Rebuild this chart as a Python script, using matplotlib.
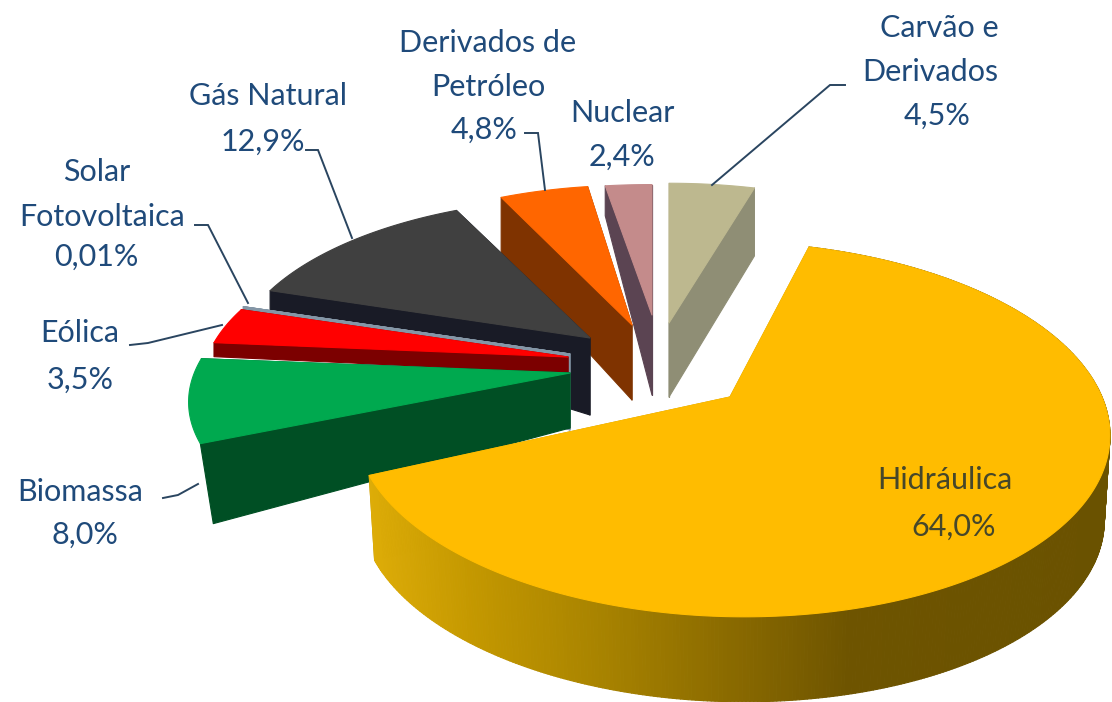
import numpy as np
import matplotlib
matplotlib.use("Agg")
import matplotlib.pyplot as plt
from matplotlib.patches import Polygon
from matplotlib.colors import to_rgb

# ---- data (clockwise from 12 o'clock) ----
names = ["Carvão e Derivados", "Hidráulica", "Biomassa", "Eólica",
         "Solar Fotovoltaica", "Gás Natural", "Derivados de Petróleo", "Nuclear"]
shares = [4.5, 64.0, 8.0, 3.5, 0.01, 12.9, 4.8, 2.4]

# ---- styles ----
top_colors = ["#BDB88F", "#FFBC00", "#00A94F", "#FF0000", "#8496A6", "#404040", "#FF6600", "#C48B8B"]
side_colors = ["#8F8E75", "#C89A00", "#004F24", "#7C0000", "#8496A6", "#191B26", "#7F3300", "#5B4452"]
rim_stops = [(365, "#DEAD08"), (470, "#C49800"), (600, "#A88300"), (730, "#8A6A00"),
             (850, "#6E5400"), (1110, "#6A5200")]

# ---- layout of the exploded projection, per wedge, pixels ----
apex_x = [669, 730, 570, 568, 570, 590, 632, 652]
apex_y = [323, 397, 373, 357, 354, 338, 325, 315]
scale_x = [0.96, 1.0, 1.01, 0.97, 0.97, 0.95, 0.93, 0.98]
scale_y = [0.90, 1.0, 0.90, 0.90, 0.90, 0.90, 0.90, 0.84]
vanish = [0, 70, 0, 0, 0, 0, 0, 0]
depth_apex = [74, 85, 55, 16, 76, 77, 75, 80]
depth_rim = [68, 85, 80, 14, 20, 25, 60, 30]
floor_x = [1.0, 0.985, 0.965, 1.0, 1.0, 1.0, 1.0, 1.0]
paint_order = [0, 7, 6, 5, 4, 3, 2, 1]
RADIUS_X, RADIUS_Y, PERSP = 372, 182, 0.172

# ---- labels (text, x, y) ----
ink = "#1F4A7A"
ink_on_gold = "#46472A"
labels = [("Derivados de", 488, 43, ink), ("Petróleo", 488, 87, ink), ("4,8%", 484, 130, ink),
          ("Nuclear", 622, 113, ink), ("2,4%", 622, 157, ink),
          ("Carvão e", 939, 28, ink), ("Derivados", 930, 72, ink), ("4,5%", 937, 116, ink),
          ("Gás Natural", 268, 96, ink), ("12,9%", 263, 142, ink),
          ("Solar", 97, 172, ink), ("Fotovoltaica", 102, 217, ink), ("0,01%", 96, 257, ink),
          ("Eólica", 80, 333, ink), ("3,5%", 80, 380, ink),
          ("Biomassa", 80, 492, ink), ("8,0%", 85, 535, ink),
          ("Hidráulica", 945, 480, ink_on_gold), ("64,0%", 954, 527, ink_on_gold)]
leaders = [([845, 830, 712], [85, 85, 185]),
           ([525, 538, 545], [133, 133, 190]),
           ([306, 318, 352], [150, 150, 238]),
           ([195, 208, 248], [225, 225, 303]),
           ([130, 148, 222], [345, 343, 325]),
           ([163, 178, 198], [498, 495, 484])]

fig = plt.figure(figsize=(11.12, 7.02), dpi=100, facecolor="white")
ax = fig.add_axes([0, 0, 1, 1])
ax.set_xlim(0, 1112)
ax.set_ylim(702, 0)
ax.axis("off")

edges = np.cumsum([0] + shares) / sum(shares) * 360.0


def project(i, theta, r=1.0):
    t = np.radians(theta)
    X, Y = r * np.sin(t), r * np.cos(t)
    w = 1 + PERSP * Y
    return np.column_stack([apex_x[i] + scale_x[i] * RADIUS_X * X / w - vanish[i] * (1 - 1 / w),
                            apex_y[i] - scale_y[i] * RADIUS_Y * Y / w])


def rim_color(x):
    xs = [s[0] for s in rim_stops]
    cs = np.array([to_rgb(s[1]) for s in rim_stops])
    return tuple(np.interp(x, xs, cs[:, k]) for k in range(3))


def poly(pts, color, z):
    ax.add_patch(Polygon(pts, closed=True, facecolor=color, edgecolor=color,
                         linewidth=0.8, zorder=z, joinstyle="round"))


z = 1
for i in paint_order:
    th = np.linspace(edges[i], edges[i + 1], max(int(edges[i + 1] - edges[i]) * 2, 2) + 1)
    rim = project(i, th)
    apex = np.array([[apex_x[i], apex_y[i]]], float)
    da, dr = depth_apex[i], depth_rim[i]
    floor = rim + np.array([0, dr])
    floor[:, 0] = apex_x[i] + (floor[:, 0] - apex_x[i]) * floor_x[i]
    down_a = np.array([0, da])
    # radial faces
    for p, q in ((rim[0], floor[0]), (rim[-1], floor[-1])):
        poly(np.vstack([apex, [p], [q], apex + down_a]), side_colors[i], z)
    z += 1
    # outer wall of the one wedge whose wall faces the viewer
    if i == 1:
        for k in range(len(rim) - 1):
            poly(np.vstack([rim[k], rim[k + 1], floor[k + 1], floor[k]]),
                 rim_color((rim[k][0] + rim[k + 1][0]) / 2), z)
    z += 1
    # top
    poly(np.vstack([apex, rim]), top_colors[i], z)
    z += 1

for xs, ys in leaders:
    ax.plot(xs, ys, color="#2A4560", lw=1.4, zorder=50, solid_joinstyle="miter")

for s, x, y, c in labels:
    ax.text(x, y, s, ha="center", va="center", fontsize=22, color=c,
            family="Lato", zorder=60)

fig.savefig("out.png", dpi=100, facecolor="white")
